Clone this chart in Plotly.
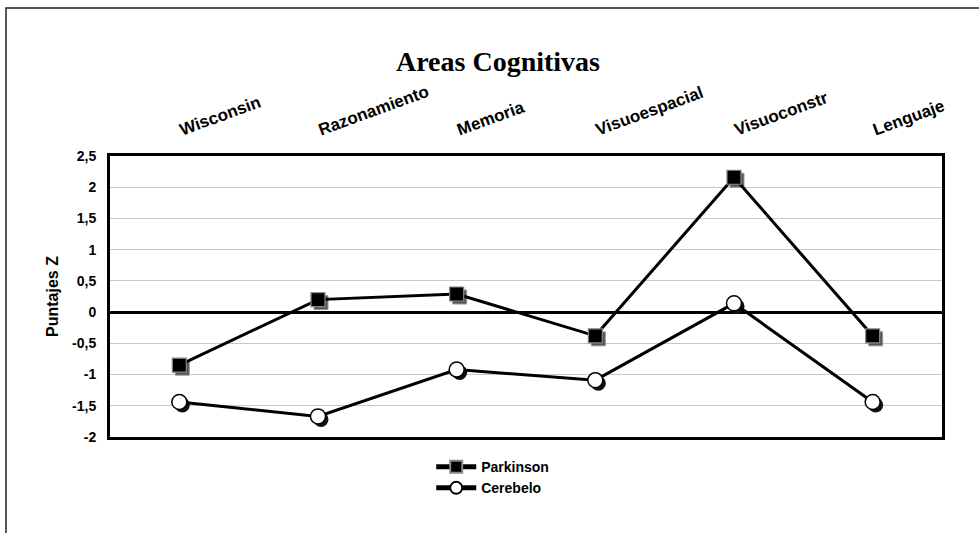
import plotly.graph_objects as go

categories = ["Wisconsin", "Razonamiento", "Memoria", "Visuoespacial", "Visuoconstr", "Lenguaje"]
parkinson = [-0.85, 0.20, 0.29, -0.38, 2.16, -0.38]
cerebelo = [-1.44, -1.67, -0.92, -1.09, 0.14, -1.44]
y_tickvals = [-2, -1.5, -1, -0.5, 0, 0.5, 1, 1.5, 2, 2.5]
y_ticktext = ["-2", "-1,5", "-1", "-0,5", "0", "0,5", "1", "1,5", "2", "2,5"]

W, H = 979, 533
ML, MR, MT, MB = 110, 37, 156, 96
pw, ph = W - ML - MR, H - MT - MB
XR = [-0.5, 5.5]
YR = [-2, 2.5]
# shadow offset (pixels) converted to axis units
sdx = 3 * (XR[1] - XR[0]) / pw
sdy = 3 * (YR[1] - YR[0]) / ph

fig = go.Figure()
# invisible anchor trace so the main (visible) axes are drawn
fig.add_trace(go.Scatter(x=categories, y=parkinson, mode="lines", showlegend=False,
                         hoverinfo="skip", opacity=0, line=dict(width=0)))
# marker shadows on a slightly shifted overlay axis (x2/y2)
fig.add_trace(go.Scatter(x=categories, y=parkinson, mode="markers", showlegend=False,
                         hoverinfo="skip", xaxis="x2", yaxis="y2", cliponaxis=False,
                         marker=dict(symbol="square", size=14, color="#555",
                                     line=dict(color="#999", width=1))))
fig.add_trace(go.Scatter(x=categories, y=cerebelo, mode="markers", showlegend=False,
                         hoverinfo="skip", xaxis="x2", yaxis="y2", cliponaxis=False,
                         marker=dict(symbol="circle", size=15, color="#111")))
# main series on an unshifted overlay axis (x3/y3) drawn above the shadows
fig.add_trace(go.Scatter(
    x=categories, y=parkinson, name="Parkinson", mode="lines+markers",
    xaxis="x3", yaxis="y3",
    line=dict(color="black", width=3),
    marker=dict(symbol="square", size=14, color="black", line=dict(color="#888", width=1.2)),
    cliponaxis=False,
))
fig.add_trace(go.Scatter(
    x=categories, y=cerebelo, name="Cerebelo", mode="lines+markers",
    xaxis="x3", yaxis="y3",
    line=dict(color="black", width=3),
    marker=dict(symbol="circle", size=15, color="white", line=dict(color="black", width=1.5)),
    cliponaxis=False,
))

# outer frame
fig.add_shape(type="rect", xref="paper", yref="paper",
              x0=(6 - ML) / pw, x1=(W + 10 - ML) / pw,
              y0=-(H + 10 - MT - ph) / ph, y1=1 + (MT - 8) / ph,
              line=dict(color="#222", width=1.5), layer="below")

fig.update_layout(
    width=W, height=H,
    margin=dict(l=ML, r=MR, t=MT, b=MB),
    paper_bgcolor="white", plot_bgcolor="white",
    font=dict(family="Liberation Sans, Arial", color="black"),
    title=dict(text="<b>Areas Cognitivas</b>", x=(498 / W), xanchor="center",
               y=1 - 61 / H, yanchor="middle",
               font=dict(family="Liberation Serif, Times New Roman", size=28, color="black")),
    showlegend=True,
    legend=dict(x=0.46, xanchor="center", y=-0.05, yanchor="top",
                orientation="v", font=dict(size=14, family="Liberation Sans, Arial", weight="bold"),
                itemsizing="constant", itemwidth=40, tracegroupgap=0, bgcolor="rgba(0,0,0,0)"),
    xaxis=dict(side="top", type="category", tickangle=-20, showgrid=False,
               showline=True, mirror=True, linecolor="black", linewidth=3,
               ticks="", ticklen=0, ticklabelstandoff=10,
               categoryorder="array", categoryarray=categories,
               tickfont=dict(size=17, family="Liberation Sans, Arial", weight="bold"),
               range=XR, zeroline=False),
    xaxis2=dict(overlaying="x", type="category", visible=False,
                range=[XR[0] - sdx, XR[1] - sdx], categoryorder="array", categoryarray=categories),
    xaxis3=dict(overlaying="x", type="category", visible=False,
                range=XR, categoryorder="array", categoryarray=categories),
    yaxis=dict(range=YR, tickvals=y_tickvals, ticktext=y_ticktext,
               showgrid=True, gridcolor="#c8c8c8", gridwidth=1,
               zeroline=True, zerolinecolor="black", zerolinewidth=3,
               showline=True, mirror=True, linecolor="black", linewidth=3,
               ticks="", ticklabelstandoff=8,
               tickfont=dict(size=14, family="Liberation Sans, Arial", weight="bold"),
               title=dict(text="<b>Puntajes Z</b>", font=dict(size=16), standoff=10)),
    yaxis2=dict(overlaying="y", visible=False, range=[YR[0] + sdy, YR[1] + sdy]),
    yaxis3=dict(overlaying="y", visible=False, range=YR),
)

fig.write_html("out.html")
